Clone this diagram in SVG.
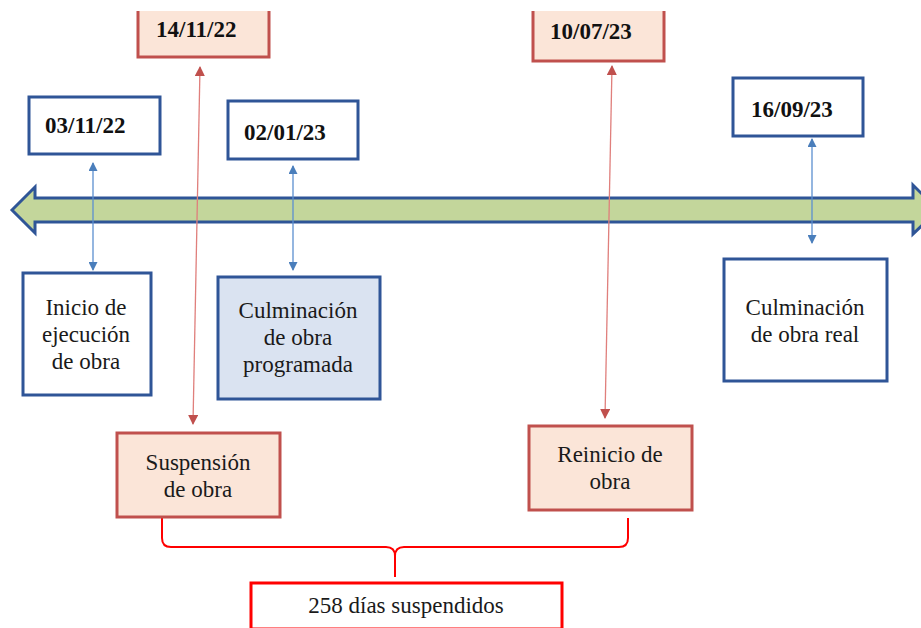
<svg xmlns="http://www.w3.org/2000/svg" width="921" height="628" viewBox="0 0 921 628">
  <style>
    .t { font-family: "Liberation Serif", "Times New Roman", serif; font-size: 23px; fill: #1a1a1a; }
    .b { font-weight: bold; fill: #111; }
    .c { text-anchor: middle; }
    .blueBox { fill: #ffffff; stroke: #2f5597; stroke-width: 3; }
    .blueFill { fill: #dae3f1; stroke: #2f5597; stroke-width: 3; }
    .redBox { fill: #fbe5d8; stroke: #c0504d; stroke-width: 3; }
    .blueLink { stroke: #5b8fd0; stroke-width: 1.3; fill: none; }
    .redLink { stroke: #e07f7c; stroke-width: 1.3; fill: none; }
  </style>
  <defs>
    <marker id="ab" viewBox="0 0 10 10" refX="9" refY="5" markerWidth="10" markerHeight="9" markerUnits="userSpaceOnUse" orient="auto-start-reverse">
      <path d="M0,0 L10,5 L0,10 Z" fill="#4a7ebb"/>
    </marker>
    <marker id="ar" viewBox="0 0 10 10" refX="9" refY="5" markerWidth="11" markerHeight="10" markerUnits="userSpaceOnUse" orient="auto-start-reverse">
      <path d="M0,0 L10,5 L0,10 Z" fill="#c0504d"/>
    </marker>
    <clipPath id="topcut"><rect x="0" y="11" width="921" height="617"/></clipPath>
  </defs>

  <rect width="921" height="628" fill="#ffffff"/>

  <!-- timeline: double-headed green arrow -->
  <g id="timeline">
    <path d="M12,210 L35,187 L35,198 L913,198 L913,185 L938,210 L913,234 L913,222 L35,222 L35,233 Z"
          fill="#c3d69b" stroke="#2f5597" stroke-width="3" stroke-linejoin="miter"/>
  </g>

  <!-- connectors -->
  <g id="connectors">
    <path class="blueLink" d="M93,163 V270" marker-start="url(#ab)" marker-end="url(#ab)"/>
    <path class="blueLink" d="M293,166 V270" marker-start="url(#ab)" marker-end="url(#ab)"/>
    <path class="blueLink" d="M812,139 V243" marker-start="url(#ab)" marker-end="url(#ab)"/>
    <path class="redLink" d="M200,67 L193,424" marker-start="url(#ar)" marker-end="url(#ar)"/>
    <path class="redLink" d="M612,66 L605,418" marker-start="url(#ar)" marker-end="url(#ar)"/>
    <!-- brace grouping the suspension period -->
    <path d="M162,517 V538 Q162,547 171,547 H386 Q395,547 395,556 V577 M395,556 Q395,547 404,547 H619 Q628,547 628,538 V518"
          fill="none" stroke="#ff0000" stroke-width="2"/>
  </g>

  <g id="d141122" clip-path="url(#topcut)">
    <rect class="redBox" x="138" y="-5" width="131" height="62"/>
    <text class="t b" x="156" y="37">14/11/22</text>
  </g>

  <g id="d100723" clip-path="url(#topcut)">
    <rect class="redBox" x="533" y="-5" width="131" height="66"/>
    <text class="t b" x="550" y="39">10/07/23</text>
  </g>

  <g id="d031122">
    <rect class="blueBox" x="29" y="97" width="131" height="57"/>
    <text class="t b" x="45" y="133">03/11/22</text>
  </g>

  <g id="d020123">
    <rect class="blueBox" x="228" y="101" width="130" height="58"/>
    <text class="t b" x="244" y="140">02/01/23</text>
  </g>

  <g id="d160923">
    <rect class="blueBox" x="733" y="78" width="130" height="58"/>
    <text class="t b" x="751" y="117">16/09/23</text>
  </g>

  <g id="inicio">
    <rect class="blueBox" x="23" y="273" width="128" height="122"/>
    <text class="t c" x="86" y="315">Inicio de</text>
    <text class="t c" x="86" y="342">ejecución</text>
    <text class="t c" x="86" y="369">de obra</text>
  </g>

  <g id="culminacionProgramada">
    <rect class="blueFill" x="218" y="277" width="162" height="122"/>
    <text class="t c" x="298" y="318">Culminación</text>
    <text class="t c" x="298" y="345">de obra</text>
    <text class="t c" x="298" y="372">programada</text>
  </g>

  <g id="culminacionReal">
    <rect class="blueBox" x="724" y="259" width="163" height="122"/>
    <text class="t c" x="805" y="315">Culminación</text>
    <text class="t c" x="805" y="342">de obra real</text>
  </g>

  <g id="suspension">
    <rect class="redBox" x="117" y="433" width="163" height="84"/>
    <text class="t c" x="198" y="470">Suspensión</text>
    <text class="t c" x="198" y="497">de obra</text>
  </g>

  <g id="reinicio">
    <rect class="redBox" x="529" y="426" width="163" height="84"/>
    <text class="t c" x="610" y="462">Reinicio de</text>
    <text class="t c" x="610" y="489">obra</text>
  </g>

  <g id="diasSuspendidos">
    <rect x="251" y="583" width="311" height="46" fill="#ffffff" stroke="#ff0000" stroke-width="3"/>
    <text class="t c" x="406" y="613">258 días suspendidos</text>
  </g>
</svg>
